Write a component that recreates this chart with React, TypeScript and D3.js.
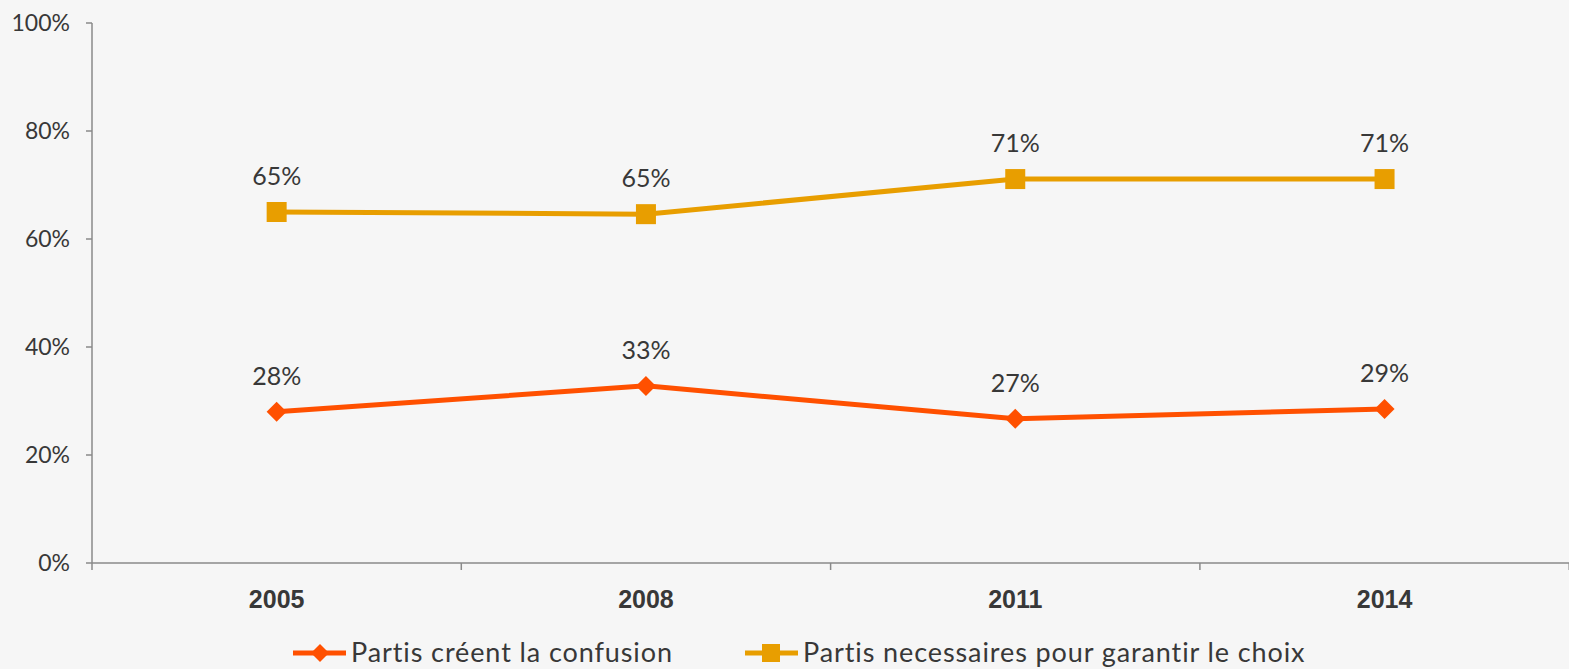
import React from "react";
import * as d3 from "d3";

const years = ["2005", "2008", "2011", "2014"];
const confusion = [28, 32.8, 26.7, 28.5];
const confusionLabels = ["28%", "33%", "27%", "29%"];
const necessaires = [65, 64.6, 71.1, 71.1];
const necessairesLabels = ["65%", "65%", "71%", "71%"];
const yTicks = [0, 20, 40, 60, 80, 100];
const seriesNames = ["Partis créent la confusion", "Partis necessaires pour garantir le choix"];

const W = 1569;
const H = 669;
const ORANGE = "#FF5000";
const GOLD = "#E89E00";
const AXIS = "#8a8a8a";
const TEXT = "#383838";
const FONT = "'Lato', 'DejaVu Sans', sans-serif";

export default function App() {
  const left = 92;
  const right = 1569;
  const top = 23;
  const bottom = 563;
  const x = d3.scaleBand<string>().domain(years).range([left, left + 4 * 369.3]).padding(0);
  const y = d3.scaleLinear().domain([0, 100]).range([bottom, top]);
  const cx = (d: string) => (x(d) as number) + x.bandwidth() / 2;
  const line = d3.line<number>().x((_, i) => cx(years[i])).y((v) => y(v));
  const bandEdges = years.map((d) => x(d) as number).concat([(x(years[3]) as number) + x.bandwidth()]);

  const diamond = (px: number, py: number, r: number) =>
    `M${px},${py - r}L${px + r},${py}L${px},${py + r}L${px - r},${py}Z`;

  return (
    <svg width={W} height={H} style={{ position: "absolute", left: 0, top: 0, background: "#f6f6f6" }}>
      <rect x={0} y={0} width={W} height={H} fill="#f6f6f6" />
      {/* y axis */}
      <line x1={left} x2={left} y1={top} y2={bottom} stroke={AXIS} strokeWidth={1.5} />
      {yTicks.map((t) => (
        <g key={t}>
          <line x1={left - 6} x2={left} y1={y(t)} y2={y(t)} stroke={AXIS} strokeWidth={1.5} />
          <text x={70} y={y(t)} dy="0.35em" textAnchor="end" fontFamily={FONT} fontSize={23} fill={TEXT}>
            {t}%
          </text>
        </g>
      ))}
      {/* x axis */}
      <line x1={left} x2={right} y1={bottom} y2={bottom} stroke={AXIS} strokeWidth={1.5} />
      {bandEdges.map((e, i) => (
        <line key={i} x1={e} x2={e} y1={bottom} y2={bottom + 7} stroke={AXIS} strokeWidth={1.5} />
      ))}
      {years.map((d) => (
        <text key={d} x={cx(d)} y={608} textAnchor="middle" fontFamily="'Liberation Sans', Arial, sans-serif" fontWeight="bold" fontSize={25} fill={TEXT}>
          {d}
        </text>
      ))}
      {/* series: necessaires */}
      <path d={line(necessaires) || ""} fill="none" stroke={GOLD} strokeWidth={5} />
      {necessaires.map((v, i) => (
        <g key={i}>
          <rect x={cx(years[i]) - 10} y={y(v) - 10} width={20} height={20} fill={GOLD} />
          <text x={cx(years[i])} y={y(v) - 27} textAnchor="middle" fontFamily={FONT} fontSize={25} fill={TEXT}>
            {necessairesLabels[i]}
          </text>
        </g>
      ))}
      {/* series: confusion */}
      <path d={line(confusion) || ""} fill="none" stroke={ORANGE} strokeWidth={5} />
      {confusion.map((v, i) => (
        <g key={i}>
          <path d={diamond(cx(years[i]), y(v), 10)} fill={ORANGE} />
          <text x={cx(years[i])} y={y(v) - 27} textAnchor="middle" fontFamily={FONT} fontSize={25} fill={TEXT}>
            {confusionLabels[i]}
          </text>
        </g>
      ))}
      {/* legend */}
      <g>
        <line x1={293} x2={346} y1={653} y2={653} stroke={ORANGE} strokeWidth={5} />
        <path d={diamond(320, 653, 9)} fill={ORANGE} />
        <text x={351} y={662} fontFamily={FONT} fontSize={27} letterSpacing={0.9} fill={TEXT}>
          {seriesNames[0]}
        </text>
        <line x1={745} x2={798} y1={653} y2={653} stroke={GOLD} strokeWidth={5} />
        <rect x={762} y={644} width={18} height={18} fill={GOLD} />
        <text x={803} y={662} fontFamily={FONT} fontSize={27} letterSpacing={0.9} fill={TEXT}>
          {seriesNames[1]}
        </text>
      </g>
    </svg>
  );
}
